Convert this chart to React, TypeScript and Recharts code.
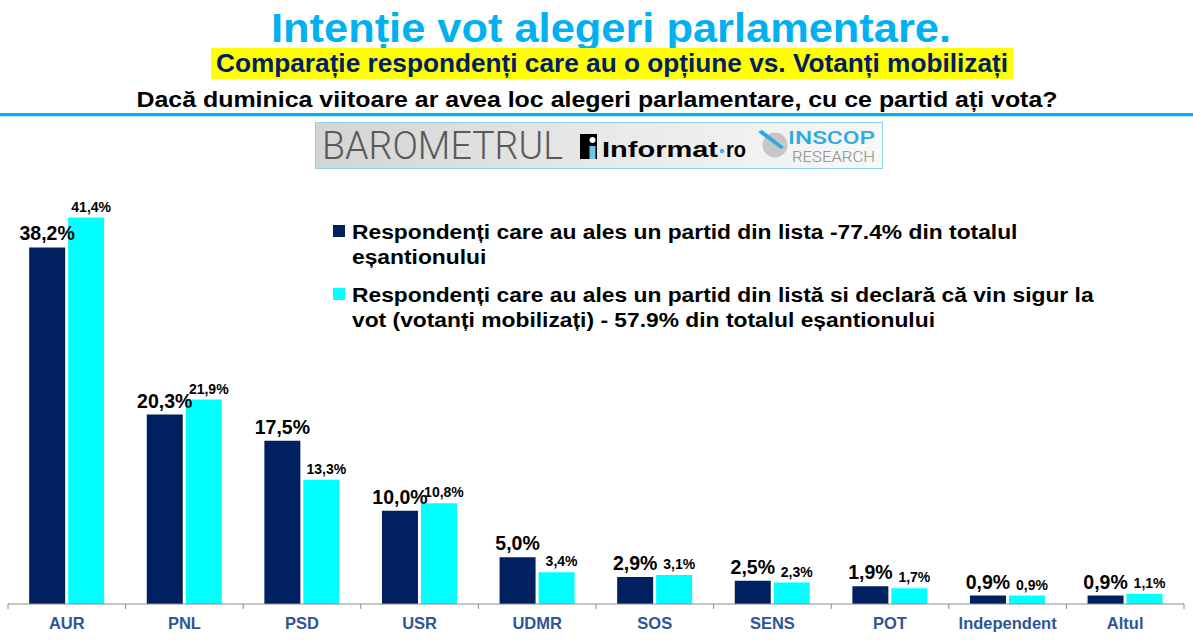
import { BarChart, Bar, XAxis, YAxis, LabelList, Legend } from "recharts"

const parties = ["AUR", "PNL", "PSD", "USR", "UDMR", "SOS", "SENS", "POT", "Independent", "Altul"]
const withOption = [38.2, 20.3, 17.5, 10.0, 5.0, 2.9, 2.5, 1.9, 0.9, 0.9]
const mobilized = [41.4, 21.9, 13.3, 10.8, 3.4, 3.1, 2.3, 1.7, 0.9, 1.1]
const seriesLines = [
  ["Respondenți care au ales un partid din lista -77.4% din totalul", "eșantionului"],
  ["Respondenți care au ales un partid din listă si declară că vin sigur la", "vot (votanți mobilizați) - 57.9% din totalul eșantionului"],
]

const data = parties.map((party, i) => ({
  party,
  withOption: withOption[i],
  mobilized: mobilized[i],
}))

const NAVY = "#002060"
const CYAN = "#00FFFF"
const FONT = "'Liberation Sans', Arial, sans-serif"

const W = 1193
const H = 640
const M = { top: 184, right: 9, left: 8, bottom: 6 }
const band = (W - M.left - M.right) / parties.length

const pct = (v: number) => v.toFixed(1).replace(".", ",") + "%"

function BigLabel(props: any) {
  const { x, y, width, value } = props
  return (
    <text x={x + width / 2} y={y - 7} textAnchor="middle" fontFamily={FONT} fontWeight="bold" fontSize={19.5} fill="#000">
      {pct(value)}
    </text>
  )
}

function SmallLabel(props: any) {
  const { x, y, width, value } = props
  return (
    <text x={x + width / 2 + 5} y={y - 6} textAnchor="middle" fontFamily={FONT} fontWeight="bold" fontSize={14} fill="#000">
      {pct(value)}
    </text>
  )
}

function PartyTick(props: any) {
  const { x, y, payload, index } = props
  const left = x - band / 2
  return (
    <g>
      <line x1={left} y1={y - 8} x2={left} y2={y - 3} stroke="#8c8c8c" />
      {index === parties.length - 1 && <line x1={x + band / 2} y1={y - 8} x2={x + band / 2} y2={y - 3} stroke="#8c8c8c" />}
      <text x={x} y={y + 17} textAnchor="middle" fontFamily={FONT} fontWeight="bold" fontSize={16.5} fill="#2F5597">
        {payload.value}
      </text>
    </g>
  )
}

// legend text is wider than Arial in the source deck, so stretch it a bit
function LegendBox(props: any) {
  const items = props.payload || []
  return (
    <svg width={780} height={120} style={{ display: "block" }}>
      {items.map((it: any, i: number) => {
        const top = i === 0 ? 9 : 72
        return (
          <g key={i}>
            <rect x={0} y={top} width={12} height={12} fill={it.color} />
            <g transform={`translate(19,0) scale(1.17,1)`}>
              {seriesLines[i].map((line, j) => (
                <text key={j} x={0} y={top + 14 + j * 25} fontFamily={FONT} fontWeight="bold" fontSize={19.5} fill="#000">
                  {line}
                </text>
              ))}
            </g>
          </g>
        )
      })}
    </svg>
  )
}

function Header() {
  return (
    <svg width={W} height={120} style={{ position: "absolute", left: 0, top: 0 }}>
      <text x={611} y={42} textAnchor="middle" textLength={680} lengthAdjust="spacingAndGlyphs" fontFamily={FONT} fontWeight="bold" fontSize={41} fill="#00B0F0">
        Intenție vot alegeri parlamentare.
      </text>
      <rect x={211} y={48} width={802} height={31} fill="#FFFF00" />
      <text x={612} y={72} textAnchor="middle" textLength={792} lengthAdjust="spacingAndGlyphs" fontFamily={FONT} fontWeight="bold" fontSize={26} fill="#002060">
        Comparație respondenți care au o opțiune vs. Votanți mobilizați
      </text>
      <text x={597} y={107} textAnchor="middle" textLength={921} lengthAdjust="spacingAndGlyphs" fontFamily={FONT} fontWeight="bold" fontSize={22} fill="#000">
        Dacă duminica viitoare ar avea loc alegeri parlamentare, cu ce partid ați vota?
      </text>
      <rect x={0} y={113} width={W} height={3} fill="#00B0F0" />
      <rect x={0} y={116} width={W} height={1} fill="#bfe8f8" />
    </svg>
  )
}

function Logo() {
  return (
    <svg width={568} height={47} style={{ position: "absolute", left: 315, top: 122 }}>
      <defs>
        <linearGradient id="lg" x1="0" x2="1" y1="0" y2="0">
          <stop offset="0" stopColor="#d4d4d4" />
          <stop offset="0.55" stopColor="#eaeaea" />
          <stop offset="1" stopColor="#f8f8f8" />
        </linearGradient>
      </defs>
      <rect x={0.5} y={0.5} width={567} height={46} fill="url(#lg)" stroke="#8fd0ea" />
      <text x={7} y={37} textLength={241} lengthAdjust="spacingAndGlyphs" fontFamily="Roboto, 'Open Sans', sans-serif" fontWeight={300} fontSize={39} fill="#5a5a5a">
        BAROMETRUL
      </text>
      <rect x={265} y={12} width={17} height={25} fill="#000" />
      <circle cx={277.5} cy={18} r={3} fill="#fff" />
      <rect x={274.5} y={24} width={6} height={13} fill="#6ec6e6" />
      <text x={287} y={35} textLength={116} lengthAdjust="spacingAndGlyphs" fontFamily={FONT} fontWeight="bold" fontSize={22} fill="#000">
        Informat
      </text>
      <circle cx={407} cy={29} r={2.3} fill="#3fb0e0" />
      <text x={411} y={35} textLength={20} lengthAdjust="spacingAndGlyphs" fontFamily={FONT} fontWeight="bold" fontSize={22} fill="#000">
        ro
      </text>
      <circle cx={460} cy={23} r={12.5} fill="#c6c6c6" />
      <polygon points="443,10 447,8 469,25 466,27" fill="#29abe2" />
      <text x={473} y={22} textLength={87} lengthAdjust="spacingAndGlyphs" fontFamily="Roboto, sans-serif" fontWeight={500} fontSize={18} fill="#29abe2">
        INSCOP
      </text>
      <text x={477} y={40} textLength={83} lengthAdjust="spacingAndGlyphs" fontFamily="Roboto, sans-serif" fontWeight={300} fontSize={14.5} fill="#8a8a8a">
        RESEARCH
      </text>
    </svg>
  )
}

export default function App() {
  return (
    <div style={{ position: "absolute", left: 0, top: 0, width: W, height: H, background: "#fff", overflow: "hidden" }}>
      <Header />
      <Logo />
      <div style={{ position: "absolute", left: 0, top: 0 }}>
        <BarChart width={W} height={H} data={data} margin={M} barCategoryGap="18%" barGap={3}>
          <XAxis dataKey="party" axisLine={{ stroke: "#8c8c8c" }} tickLine={false} height={30} interval={0} tick={<PartyTick />} />
          <YAxis hide domain={[0, 45]} />
          <Legend
            layout="vertical"
            align="center"
            verticalAlign="middle"
            wrapperStyle={{ position: "absolute", left: 333, top: 216, width: 780 }}
            content={<LegendBox />}
          />
          <Bar dataKey="withOption" name={seriesLines[0].join(" ")} fill={NAVY} isAnimationActive={false}>
            <LabelList dataKey="withOption" content={<BigLabel />} />
          </Bar>
          <Bar dataKey="mobilized" name={seriesLines[1].join(" ")} fill={CYAN} isAnimationActive={false}>
            <LabelList dataKey="mobilized" content={<SmallLabel />} />
          </Bar>
        </BarChart>
      </div>
    </div>
  )
}
